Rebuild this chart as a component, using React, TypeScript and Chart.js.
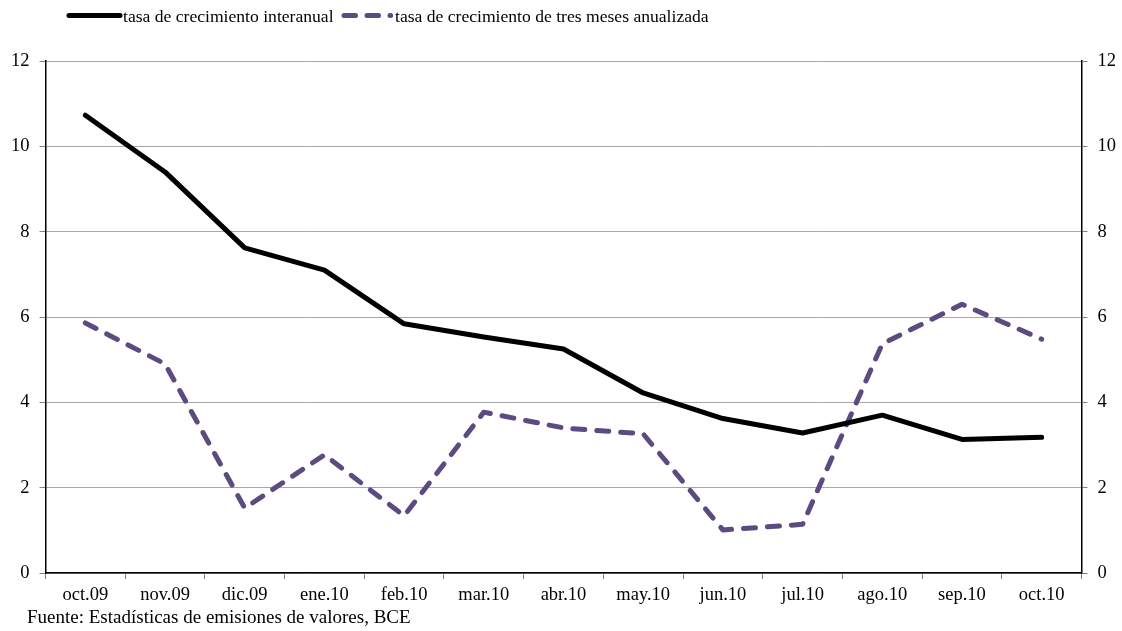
import React, { useEffect, useRef } from "react";
import { Chart, registerables } from "chart.js";

Chart.register(...registerables);

const categories = [
  "oct.09", "nov.09", "dic.09", "ene.10", "feb.10", "mar.10", "abr.10",
  "may.10", "jun.10", "jul.10", "ago.10", "sep.10", "oct.10",
];
const interanual = [10.73, 9.4, 7.62, 7.1, 5.84, 5.53, 5.25, 4.22, 3.62, 3.28, 3.7, 3.13, 3.18];
const tresMeses = [5.86, 4.9, 1.52, 2.77, 1.34, 3.77, 3.4, 3.26, 1.01, 1.14, 5.37, 6.3, 5.48];
const yTicks = [0, 2, 4, 6, 8, 10, 12];

const labelSolid = "tasa de crecimiento interanual";
const labelDashed = "tasa de crecimiento de tres meses anualizada";
const sourceNote = "Fuente: Estadísticas de emisiones de valores, BCE";

const PURPLE = "#5c4a80";
const FONT = "'Liberation Serif', 'Times New Roman', serif";

const overlayPlugin = {
  id: "overlay",
  afterDraw(chart: any) {
    const ctx = chart.ctx as CanvasRenderingContext2D;
    ctx.save();
    // legend solid
    ctx.lineCap = "round";
    ctx.lineWidth = 5;
    ctx.strokeStyle = "#000";
    ctx.setLineDash([]);
    ctx.beginPath();
    ctx.moveTo(69, 15.5);
    ctx.lineTo(120, 15.5);
    ctx.stroke();
    // legend dashed
    ctx.strokeStyle = PURPLE;
    ctx.setLineDash([11.5, 11.5]);
    ctx.beginPath();
    ctx.moveTo(344, 15.5);
    ctx.lineTo(390.6, 15.5);
    ctx.stroke();
    ctx.setLineDash([]);
    ctx.fillStyle = "#000";
    ctx.font = `17.6px ${FONT}`;
    ctx.textBaseline = "alphabetic";
    ctx.textAlign = "left";
    ctx.fillText(labelSolid, 123, 21.5);
    ctx.fillText(labelDashed, 395, 21.5);
    // source
    ctx.font = `19px ${FONT}`;
    ctx.fillText(sourceNote, 27, 623);
    ctx.restore();
  },
};

export default function App() {
  const ref = useRef<HTMLCanvasElement | null>(null);
  useEffect(() => {
    if (!ref.current) return;
    const chart = new Chart(ref.current, {
      type: "line",
      data: {
        labels: categories,
        datasets: [
          {
            label: labelSolid,
            data: interanual,
            borderColor: "#000",
            backgroundColor: "#000",
            borderWidth: 5,
            pointRadius: 0,
            tension: 0,
            borderCapStyle: "round",
            borderJoinStyle: "round",
            yAxisID: "y",
          },
          {
            label: labelDashed,
            data: tresMeses,
            borderColor: PURPLE,
            backgroundColor: PURPLE,
            borderWidth: 5,
            borderDash: [12, 12],
            pointRadius: 0,
            tension: 0,
            borderCapStyle: "round",
            borderJoinStyle: "round",
            yAxisID: "y",
          },
        ],
      },
      options: {
        animation: false,
        responsive: true,
        maintainAspectRatio: false,
        layout: { padding: { top: 61, left: 0, right: 0, bottom: 0 } },
        plugins: {
          legend: { display: false },
          tooltip: { enabled: false },
        },
        scales: {
          x: {
            offset: true,
            grid: {
              offset: true,
              drawOnChartArea: false,
              drawTicks: true,
              tickLength: 6,
              color: "#808080",
              tickColor: "#808080",
            },
            border: { color: "#000", width: 1.5 },
            ticks: {
              color: "#000",
              font: { family: FONT, size: 18.5 },
              padding: 5,
              maxRotation: 0,
              autoSkip: false,
            },
            afterFit(scale: any) {
              scale.height = 58;
            },
          },
          y: {
            position: "left",
            min: 0,
            max: 12,
            afterBuildTicks(scale: any) {
              scale.ticks = yTicks.map((v) => ({ value: v }));
            },
            grid: {
              color: "#a8a8a8",
              lineWidth: 1,
              tickLength: 6,
              tickColor: "#808080",
            },
            border: { color: "#000", width: 1.5 },
            ticks: {
              color: "#000",
              font: { family: FONT, size: 18.5 },
              padding: 10,
            },
            afterFit(scale: any) {
              scale.width = 45.5;
            },
          },
          y2: {
            position: "right",
            min: 0,
            max: 12,
            afterBuildTicks(scale: any) {
              scale.ticks = yTicks.map((v) => ({ value: v }));
            },
            grid: {
              drawOnChartArea: false,
              tickLength: 6,
              color: "#808080",
              tickColor: "#808080",
            },
            border: { color: "#000", width: 1.5 },
            ticks: {
              color: "#000",
              font: { family: FONT, size: 18.5 },
              padding: 10,
            },
            afterFit(scale: any) {
              scale.width = 40.5;
            },
          },
        },
      },
      plugins: [overlayPlugin],
    });
    return () => chart.destroy();
  }, []);

  return (
    <div style={{ position: "absolute", left: 0, top: 0, width: 1122, height: 631, background: "#fff" }}>
      <canvas ref={ref} />
    </div>
  );
}
